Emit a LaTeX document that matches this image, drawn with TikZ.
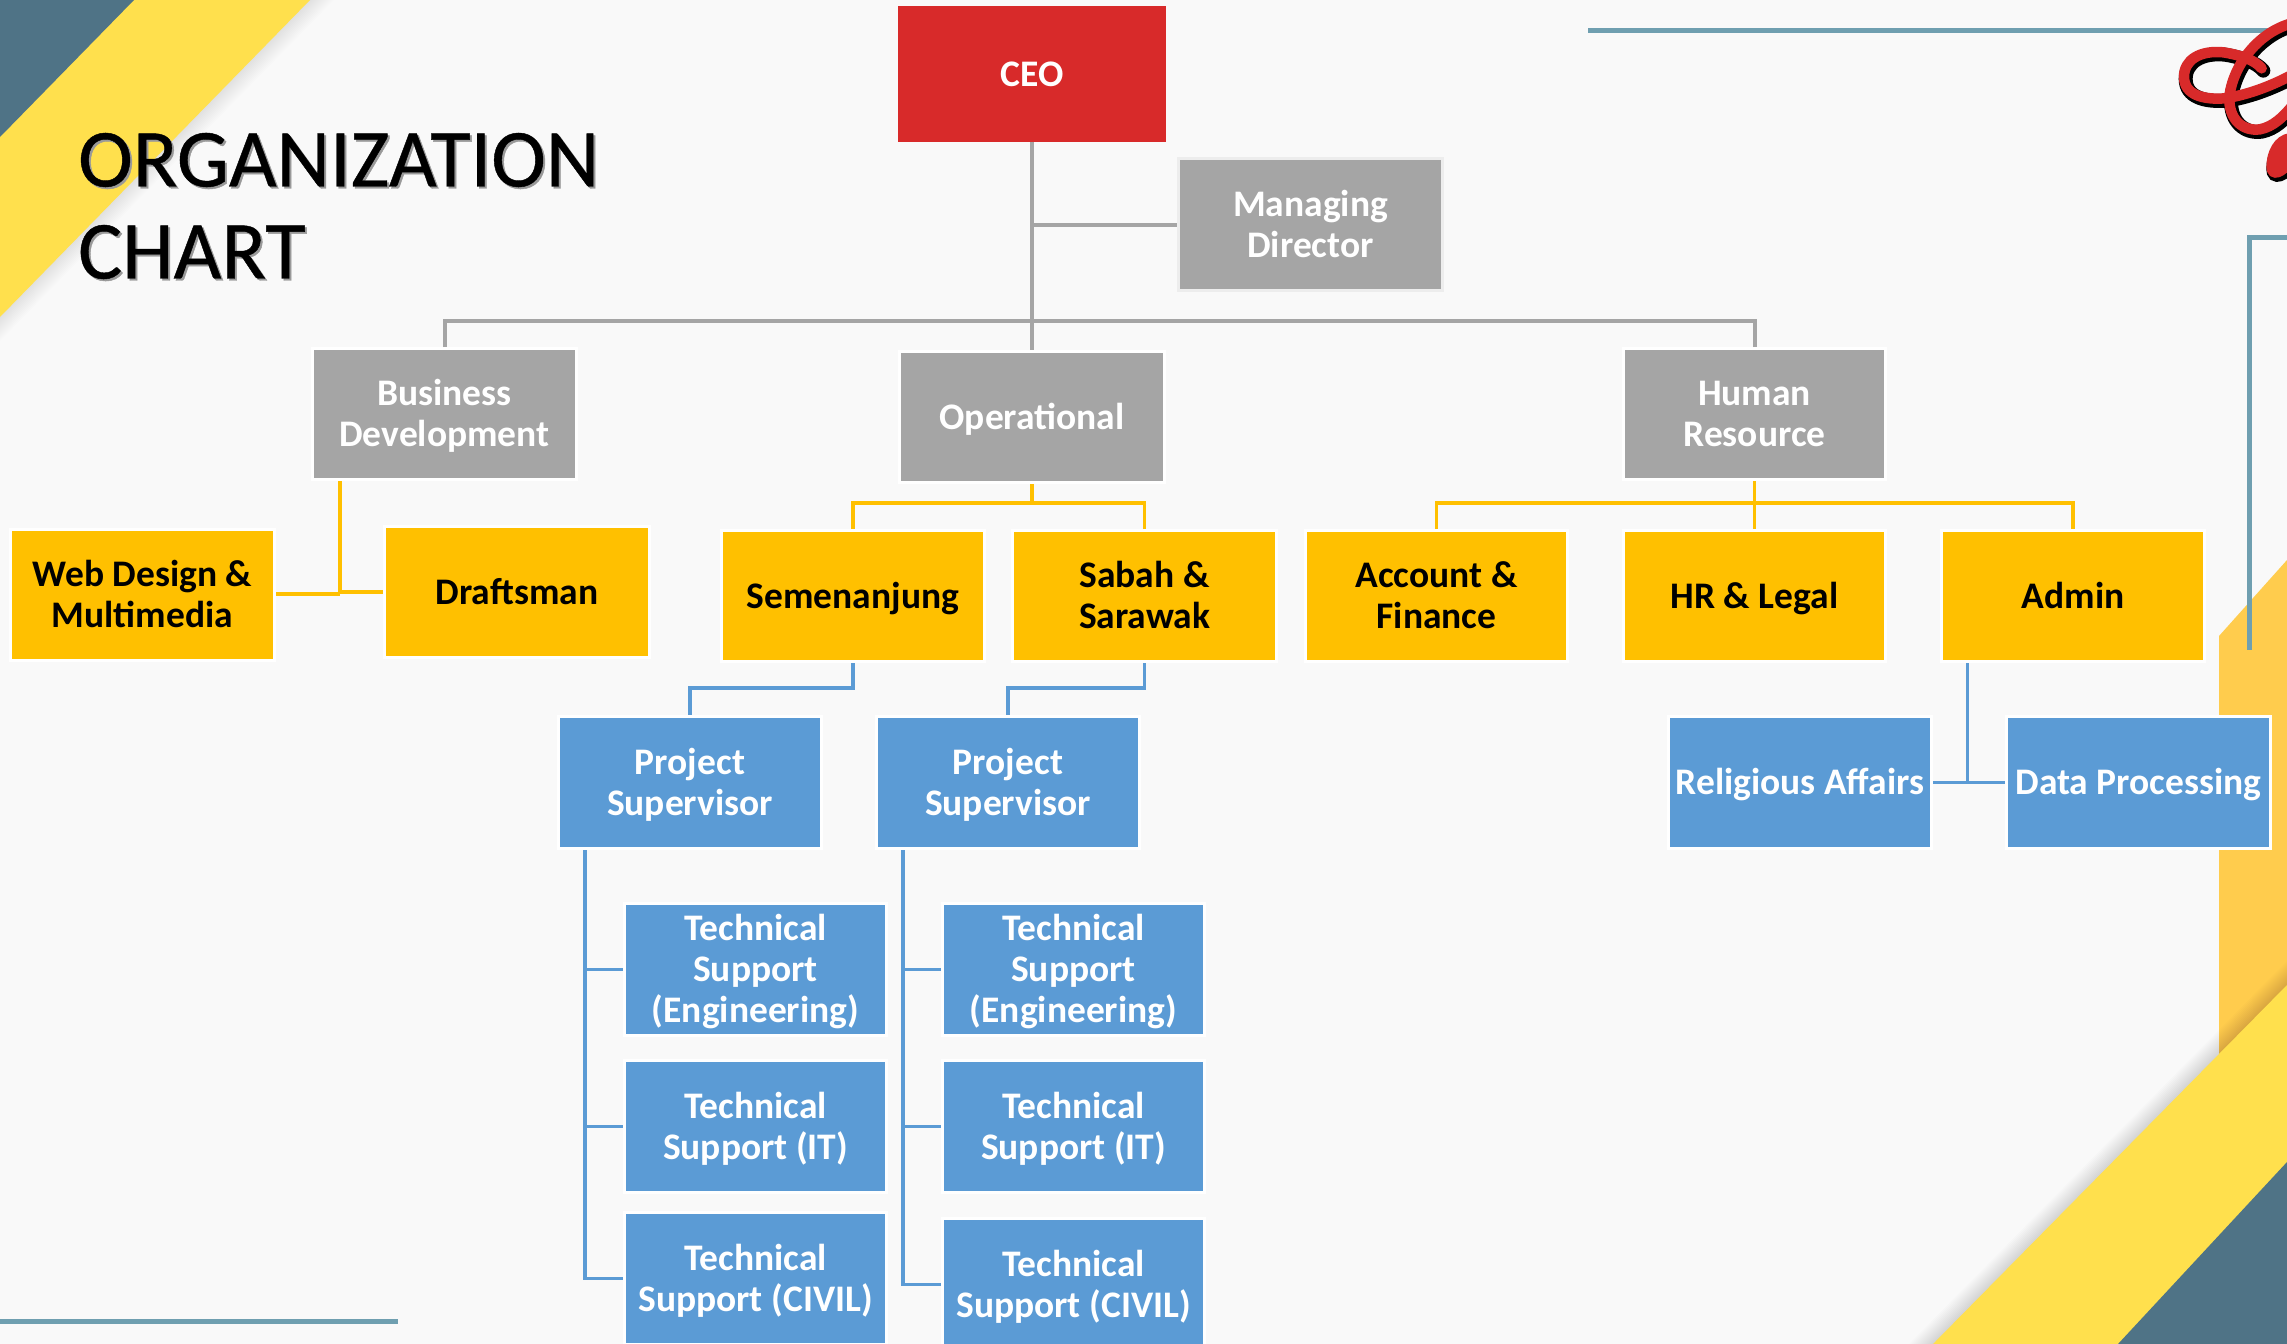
\documentclass[tikz,border=0pt]{standalone}
\usepackage{fontspec}
\setmainfont{Carlito}
\newfontfamily\titlefont[FakeBold=0.5]{Carlito}
\definecolor{pagebg}{HTML}{F9F9F9}
\definecolor{band}{HTML}{FFE04D}
\definecolor{slate}{HTML}{4F7386}
\definecolor{panel}{HTML}{FFCC4D}
\definecolor{rule}{HTML}{6F9FB0}
\definecolor{cgrey}{HTML}{A5A5A5}
\definecolor{corange}{HTML}{FFC000}
\definecolor{cblue}{HTML}{5B9BD5}
\definecolor{cred}{HTML}{D82A2A}
\tikzset{
  boxbase/.style={rectangle,inner sep=0pt,align=center,font=\fontsize{37.5}{41}\selectfont\bfseries,line width=3pt},
  redbox/.style={boxbase,fill=cred,draw=cred,text=white,line width=1pt},
  greybox/.style={boxbase,fill=cgrey,draw=white,text=white},
  mdbox/.style={boxbase,fill=cgrey,draw=black!7,text=white},
  orangebox/.style={boxbase,fill=corange,draw=white,text=black},
  bluebox/.style={boxbase,fill=cblue,draw=white,text=white},
  glink/.style={draw=cgrey,line width=4pt},
  olink/.style={draw=corange,line width=3.5pt},
  blink/.style={draw=cblue,line width=3.5pt},
  deco/.style={draw=rule,line width=5pt},
  titletext/.style={inner sep=0pt,align=left,anchor=west,font=\titlefont\fontsize{82.5}{92}\selectfont}
}
\newcommand{\bx}[7]{\node[#6,minimum width={(#4-#2+3)*1pt},minimum height={(#5-#3+3)*1pt}] (#1) at ({(#2+#4)/2},{(#3+#5)/2}) {\raisebox{-4pt}[\height][\depth]{\begin{tabular}{@{}c@{}}#7\end{tabular}}};}
\begin{document}
\begin{tikzpicture}[x=1pt,y=-1pt]
\useasboundingbox (0,0) rectangle (2287,1344);
\clip (0,0) rectangle (2287,1344);
\fill[pagebg] (0,0) rectangle (2287,1344);
% right panel
\fill[panel] (2219,636) -- (2287,560) -- (2287,1200) -- (2219,1200) -- cycle;
% soft shadows
\foreach \d in {2,4,...,24}{
  \fill[black!60!red!30!black,opacity=0.007] (310+\d,0) -- (0,317+\d) -- (0,0) -- cycle;
  \fill[black!60!red!40!black,opacity=0.010] (1933-\d,1344) -- (2287,985-\d) -- (2287,1344) -- cycle;
}
% corner bands
\fill[band] (310,0) -- (0,317) -- (0,0) -- cycle;
\fill[slate] (134,0) -- (0,137) -- (0,0) -- cycle;
\fill[band] (1933,1344) -- (2287,985) -- (2287,1344) -- cycle;
\fill[slate] (2118,1344) -- (2287,1162) -- (2287,1344) -- cycle;
% decorative rules
\draw[deco] (1588,30) -- (2287,30);
\draw[deco] (2287,237) -- (2249,237) -- (2249,650);
\draw[deco] (0,1321) -- (398,1321);
% logo
\begin{scope}[shift={(2160,0)},x=0.3333pt,y=-0.3333pt]
  \foreach \dx/\dy/\c/\w in {5/7/black/14pt,0/0/cred/10.5pt}{
    \begin{scope}[shift={(\dx,\dy)}]
    \draw[\c,line width=\w,line cap=round]
      (305,205) .. controls (285,180) and (240,165) .. (190,157)
      .. controls (120,150) and (72,180) .. (72,230)
      .. controls (72,285) and (130,300) .. (195,295)
      .. controls (260,285) and (330,260) .. (395,225);
    \draw[\c,line width=\w,line cap=round]
      (395,70) .. controls (300,95) and (220,190) .. (208,290)
      .. controls (205,360) and (250,395) .. (300,388)
      .. controls (340,380) and (370,350) .. (395,320);
    \draw[\c,line width=\w,line cap=round,fill=\c]
      (390,415) .. controls (355,420) and (335,460) .. (335,500)
      .. controls (335,530) and (365,520) .. (395,480) -- cycle;
    \end{scope}
  }
\end{scope}
% title
\node[titletext,text=black!40] (titleshade) at (80,208) {ORGANIZATION\\CHART};
\node[titletext] (title) at (78,206) {ORGANIZATION\\CHART};
% boxes
\bx{ceo}{900}{8}{1164}{140}{redbox}{CEO}
\bx{md}{1180}{160}{1441}{289}{mdbox}{Managing\\Director}
\bx{bd}{314}{350}{575}{478}{greybox}{Business\\Development}
\bx{op}{901}{353}{1163}{481}{greybox}{Operational}
\bx{hr}{1625}{350}{1884}{478}{greybox}{Human\\Resource}
\bx{web}{12}{531}{273}{659}{orangebox}{Web Design \&\\Multimedia}
\bx{draft}{386}{528}{648}{656}{orangebox}{Draftsman}
\bx{sem}{723}{532}{983}{660}{orangebox}{Semenanjung}
\bx{sab}{1014}{532}{1275}{660}{orangebox}{Sabah \&\\Sarawak}
\bx{acc}{1307}{532}{1566}{660}{orangebox}{Account \&\\Finance}
\bx{hrl}{1625}{532}{1884}{660}{orangebox}{HR \& Legal}
\bx{adm}{1943}{532}{2203}{660}{orangebox}{Admin}
\bx{psa}{560}{718}{820}{847}{bluebox}{Project\\Supervisor}
\bx{psb}{878}{718}{1138}{847}{bluebox}{Project\\Supervisor}
\bx{rel}{1670}{718}{1930}{847}{bluebox}{Religious Affairs}
\bx{dat}{2008}{718}{2269}{847}{bluebox}{Data Processing}
\bx{tae}{626}{905}{885}{1034}{bluebox}{Technical\\Support\\(Engineering)}
\bx{tai}{626}{1062}{885}{1191}{bluebox}{Technical\\Support (IT)}
\bx{tac}{626}{1214}{885}{1343}{bluebox}{Technical\\Support (CIVIL)}
\bx{tbe}{944}{905}{1203}{1034}{bluebox}{Technical\\Support\\(Engineering)}
\bx{tbi}{944}{1062}{1203}{1191}{bluebox}{Technical\\Support (IT)}
\bx{tbc}{944}{1220}{1203}{1349}{bluebox}{Technical\\Support (CIVIL)}
% helper coordinates
\coordinate (gbus) at (1032,321);
\coordinate (ybd) at (340,593);
\coordinate (oop) at (1032,503);
\coordinate (ohr) at (1754.5,503);
\coordinate (bsa) at (690,688);
\coordinate (bsb) at (1008,688);
\coordinate (bpa) at (585,847);
\coordinate (bpb) at (903,847);
\coordinate (badm) at (1967.5,782.5);
% grey links
\draw[glink] (ceo.south) -- (op.north);
\draw[glink] (ceo.south |- md.west) -- (md.west);
\draw[glink] (bd.north) |- (gbus);
\draw[glink] (hr.north) |- (gbus);
% orange links
\draw[olink] (bd.south -| ybd) -- (ybd);
\draw[olink] (web.east |- 0,594) -- (ybd |- 0,594);
\draw[olink] (ybd |- 0,592) -- (draft.west);
\draw[olink] (op.south) -- (oop);
\draw[olink] (sem.north) |- (oop);
\draw[olink] (sab.north) |- (oop);
\draw[olink] (hr.south) -- (hrl.north);
\draw[olink] (acc.north) |- (ohr);
\draw[olink] (adm.north) |- (ohr);
% blue links
\draw[blink] (sem.south) |- (bsa) -- (psa.north);
\draw[blink] (sab.south) |- (bsb) -- (psb.north);
\draw[blink] (bpa |- psa.south) |- (tac.west);
\draw[blink] (bpa |- tae.west) -- (tae.west);
\draw[blink] (bpa |- tai.west) -- (tai.west);
\draw[blink] (bpb |- psb.south) |- (tbc.west);
\draw[blink] (bpb |- tbe.west) -- (tbe.west);
\draw[blink] (bpb |- tbi.west) -- (tbi.west);
\draw[blink] (badm |- adm.south) -- (badm);
\draw[blink] (rel.east) -- (dat.west);
\end{tikzpicture}
\end{document}
